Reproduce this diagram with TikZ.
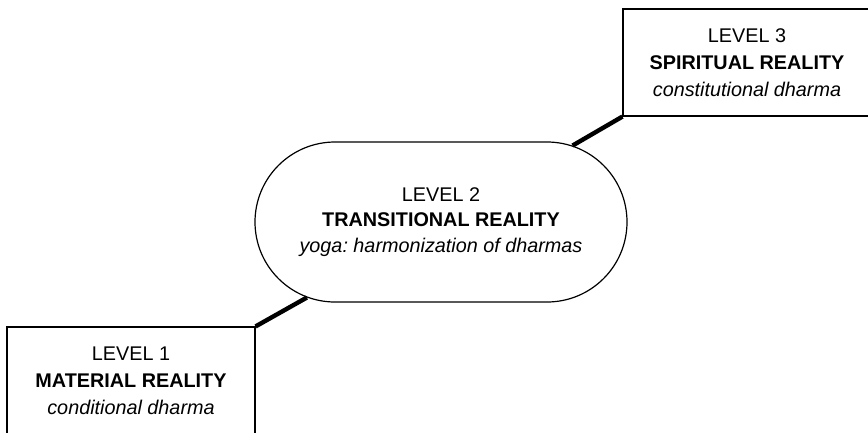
\documentclass[tikz,border=0pt]{standalone}
\usepackage{fontspec}
\setmainfont{Liberation Sans}
\frenchspacing
\usetikzlibrary{shapes.misc}
\begin{document}
\begin{tikzpicture}[x=1pt,y=-1pt,
  lvltext/.style={align=center,font=\fontsize{19.8}{26.8}\selectfont,text=black},
  levelbox/.style={lvltext,draw=black,line width=1.2pt,fill=white,minimum width=248pt,minimum height=107pt,inner sep=0pt},
  levelpill/.style={lvltext,draw=black,line width=1.2pt,fill=white,rounded rectangle,minimum width=372pt,minimum height=160pt,inner sep=0pt},
  link/.style={line width=4.4pt,black}]
\useasboundingbox (0,0) rectangle (868,432);
\clip (0,0) rectangle (868,432);
\node[levelbox] (l1) at (131,380.5) {LEVEL 1\\\textbf{MATERIAL REALITY}\\\textit{conditional dharma}};
\node[levelbox] (l3) at (747,62.5) {LEVEL 3\\\textbf{SPIRITUAL REALITY}\\\textit{constitutional dharma}};
\node[levelpill,font=\fontsize{19.8}{25.5}\selectfont] (l2) at (441,222) {LEVEL 2\\\textbf{TRANSITIONAL REALITY}\\\textit{yoga: harmonization of dharmas}};
\draw[link] (l1.north east) -- (l2);
\draw[link] (l3.south west) -- (l2);
\end{tikzpicture}
\end{document}
